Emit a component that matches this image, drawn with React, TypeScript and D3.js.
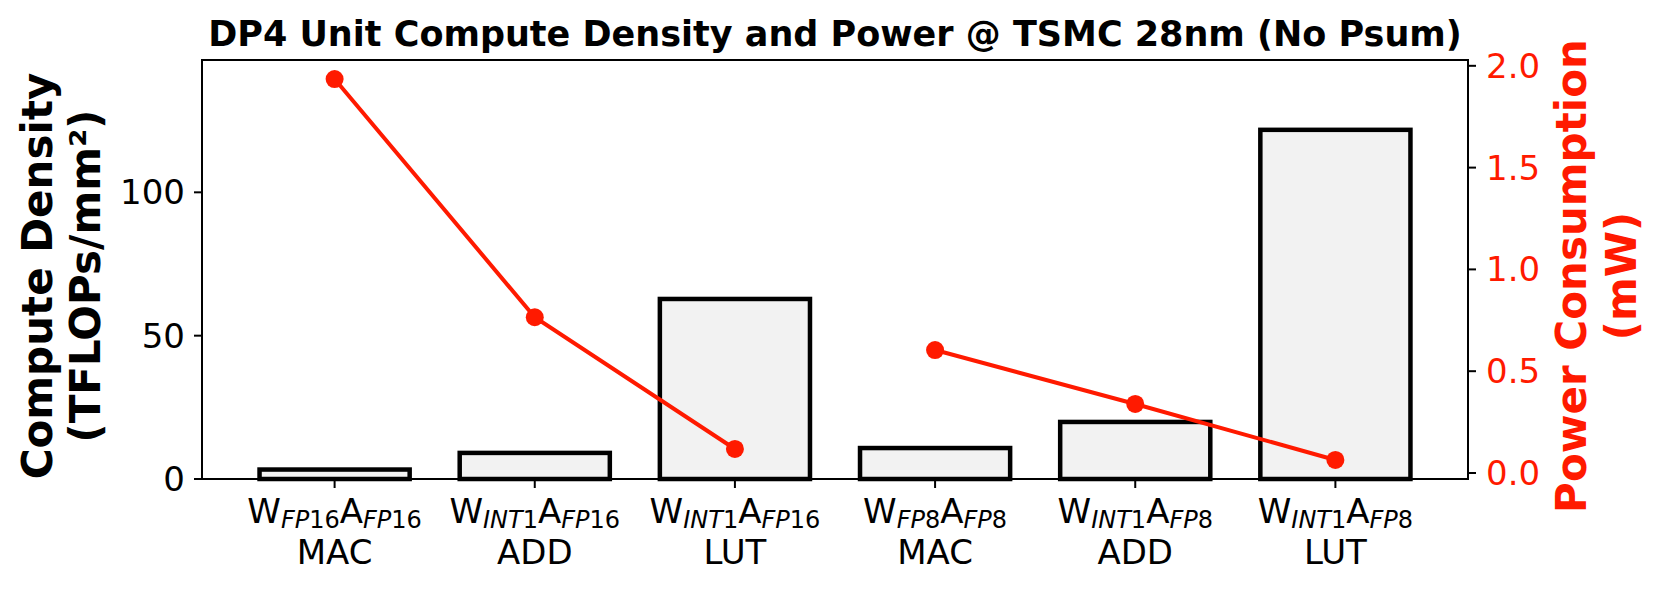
import * as d3 from 'd3'

// values
const weightFormats = ['FP16', 'INT1', 'INT1', 'FP8', 'INT1', 'INT1']
const actFormats = ['FP16', 'FP16', 'FP16', 'FP8', 'FP8', 'FP8']
const ops = ['MAC', 'ADD', 'LUT', 'MAC', 'ADD', 'LUT']
const density = [3.3, 9.1, 62.8, 10.8, 19.9, 121.8] // TFLOPs/mm²
const power = [1.935, 0.765, 0.118, 0.604, 0.339, 0.064] // mW
const lineGroups = [[0, 1, 2], [3, 4, 5]]
const leftTicks = [0, 50, 100]
const rightTicks = [0, 0.5, 1.0, 1.5, 2.0]

const W = 1660
const H = 590
const margin = { left: 202, right: 1468, top: 60, bottom: 479 }
const RED = '#ff1a00'
const FONT = '"DejaVu Sans", sans-serif'
const barWidth = 0.75

// splits "FP16" into italic letters and upright digits (mathtext style)
function Sub({ text, size, dy }: { text: string; size: number; dy: number }) {
  const m = text.match(/^([A-Z]+)(\d*)$/)
  const letters = m ? m[1] : text
  const digits = m ? m[2] : ''
  return (
    <>
      <tspan fontStyle="italic" fontSize={size} dy={dy}>{letters}</tspan>
      {digits && <tspan fontSize={size}>{digits}</tspan>}
    </>
  )
}

export default function App() {
  const n = density.length
  const pad = (n - 1 + barWidth) * 0.05
  const x = d3.scaleLinear([-barWidth / 2 - pad, n - 1 + barWidth / 2 + pad], [margin.left, margin.right])
  const yL = d3.scaleLinear([0, d3.max(density)! * 1.2], [margin.bottom, margin.top])
  const pMin = d3.min(power)!
  const pMax = d3.max(power)!
  const pPad = (pMax - pMin) * 0.05
  const yR = d3.scaleLinear([pMin - pPad, pMax + pPad], [margin.bottom, margin.top])

  const line = d3.line<number>()
    .x(i => x(i))
    .y(i => yR(power[i]))

  const bw = x(barWidth) - x(0)
  const tickFont = 34
  const subFont = 24
  const subShift = 5

  return (
    <svg width={W} height={H} style={{ position: 'absolute', left: 0, top: 0, background: '#fff' }} fontFamily={FONT}>
      {/* bars */}
      {density.map((d, i) => (
        <rect
          key={'bar' + i}
          x={x(i) - bw / 2}
          y={yL(d)}
          width={bw}
          height={yL(0) - yL(d)}
          fill="#f2f2f2"
          stroke="#000"
          strokeWidth={4.5}
        />
      ))}

      {/* power lines */}
      {lineGroups.map((g, gi) => (
        <path key={'line' + gi} d={line(g) || ''} fill="none" stroke={RED} strokeWidth={4} />
      ))}
      {power.map((p, i) => (
        <circle key={'pt' + i} cx={x(i)} cy={yR(p)} r={9} fill={RED} />
      ))}

      {/* frame */}
      <rect
        x={margin.left}
        y={margin.top}
        width={margin.right - margin.left}
        height={margin.bottom - margin.top}
        fill="none"
        stroke="#000"
        strokeWidth={2}
      />

      {/* left axis */}
      {leftTicks.map(t => (
        <g key={'lt' + t}>
          <line x1={margin.left - 8} x2={margin.left} y1={yL(t)} y2={yL(t)} stroke="#000" strokeWidth={2} />
          <text x={margin.left - 17} y={yL(t) + 12} fontSize={tickFont} textAnchor="end">{t}</text>
        </g>
      ))}

      {/* right axis */}
      {rightTicks.map(t => (
        <g key={'rt' + t}>
          <line x1={margin.right} x2={margin.right + 8} y1={yR(t)} y2={yR(t)} stroke="#000" strokeWidth={2} />
          <text x={margin.right + 18} y={yR(t) + 12} fontSize={tickFont} fill={RED}>{d3.format('.1f')(t)}</text>
        </g>
      ))}

      {/* bottom axis */}
      {ops.map((op, i) => (
        <g key={'xt' + i}>
          <line x1={x(i)} x2={x(i)} y1={margin.bottom} y2={margin.bottom + 9} stroke="#000" strokeWidth={2} />
          <text x={x(i)} y={523} fontSize={tickFont} textAnchor="middle">
            <tspan>W</tspan>
            <Sub text={weightFormats[i]} size={subFont} dy={subShift} />
            <tspan dy={-subShift}>A</tspan>
            <Sub text={actFormats[i]} size={subFont} dy={subShift} />
          </text>
          <text x={x(i)} y={564} fontSize={tickFont} textAnchor="middle">{op}</text>
        </g>
      ))}

      {/* axis titles */}
      <g transform="translate(52,276) rotate(-90)" fontSize={42} fontWeight="bold" textAnchor="middle">
        <text x={0} y={0}>Compute Density</text>
        <text x={0} y={48}>(TFLOPs/mm²)</text>
      </g>
      <g transform="translate(1586,276) rotate(-90)" fontSize={42} fontWeight="bold" textAnchor="middle" fill={RED}>
        <text x={0} y={0}>Power Consumption</text>
        <text x={0} y={50}>(mW)</text>
      </g>

      <text x={(margin.left + margin.right) / 2} y={46} fontSize={35} fontWeight="bold" textAnchor="middle">
        DP4 Unit Compute Density and Power @ TSMC 28nm (No Psum)
      </text>
    </svg>
  )
}
